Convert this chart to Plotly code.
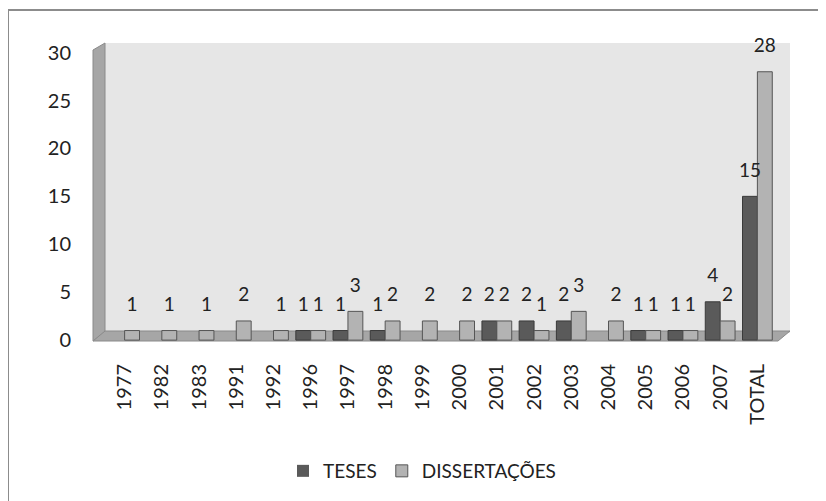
import plotly.graph_objects as go

categories = ["1977", "1982", "1983", "1991", "1992", "1996", "1997", "1998", "1999",
              "2000", "2001", "2002", "2003", "2004", "2005", "2006", "2007", "TOTAL"]
teses = [0, 0, 0, 0, 0, 1, 1, 1, 0, 0, 2, 2, 2, 0, 1, 1, 4, 15]
dissertacoes = [1, 1, 1, 2, 1, 1, 3, 2, 2, 2, 2, 1, 3, 2, 1, 1, 2, 28]
y_ticks = [0, 5, 10, 15, 20, 25, 30]

FW, FH = 826, 501
OFF = 8  # page body margin in the browser
# plot area in screen pixels: x 106..776, y 43..343
L, T = 106 - OFF, 43 - OFF
R = FW - (776 - OFF)
B = FH - (343 - OFF)
PW, PH = FW - L - R, FH - T - B


def px(x):
    return (x - OFF - L) / PW


def py(y):
    return (FH - B - (y - OFF)) / PH


FONT = "Lato, 'Open Sans', sans-serif"
GAP = 0.2

fig = go.Figure()
series = [
    ("TESES", teses, "#5a5a5a", "#3a3a3a", "a"),
    ("DISSERTAÇÕES", dissertacoes, "#b3b3b3", "#555", "b"),
]
for name, vals, fill, edge, grp in series:
    fig.add_trace(go.Bar(
        name=name, x=categories, y=vals, offsetgroup=grp,
        marker=dict(color=fill, line=dict(color=edge, width=[1 if v else 0 for v in vals])),
    ))
for name, vals, fill, edge, grp in series:
    fig.add_trace(go.Scatter(
        x=categories, y=vals, offsetgroup=grp, mode="markers+text",
        text=[str(v) if v else "" for v in vals], textposition="top center",
        marker=dict(size=22, opacity=0), textfont=dict(size=19, color="#222"),
        showlegend=False, hoverinfo="skip", cliponaxis=False,
    ))

shapes = [
    # outer border
    dict(type="rect", xref="paper", yref="paper", x0=px(8), x1=px(822), y0=py(515), y1=py(10),
         line=dict(color="#8c8c8c", width=2), fillcolor="rgba(0,0,0,0)", layer="below"),
    # back wall
    dict(type="rect", xref="paper", yref="paper", x0=px(105), x1=px(790), y0=py(333), y1=py(43),
         line=dict(width=0), fillcolor="#e6e6e6", layer="below"),
    # left wall
    dict(type="path", xref="paper", yref="paper",
         path=f"M {px(93)},{py(341)} L {px(93)},{py(50)} L {px(105)},{py(43)} L {px(105)},{py(333)} Z",
         line=dict(color="#8a8a8a", width=1), fillcolor="#a6a6a6", layer="below"),
    # floor
    dict(type="path", xref="paper", yref="paper",
         path=f"M {px(93)},{py(341)} L {px(105)},{py(331)} L {px(790)},{py(331)} L {px(778)},{py(341)} Z",
         line=dict(color="#8a8a8a", width=1), fillcolor="#a6a6a6", layer="below"),
]

fig.update_layout(
    width=FW, height=FH,
    margin=dict(l=L, r=R, t=T, b=B, autoexpand=False),
    paper_bgcolor="white", plot_bgcolor="rgba(0,0,0,0)",
    barmode="group", bargap=GAP, bargroupgap=0,
    scattermode="group", scattergap=GAP,
    font=dict(family=FONT, size=16, color="#222"),
    shapes=shapes,
    showlegend=True,
    legend=dict(orientation="h", x=px(422), xanchor="center", y=py(471), yanchor="middle",
                font=dict(size=19, color="#222"), itemwidth=30),
    xaxis=dict(type="category", tickangle=-90, showgrid=False, showline=False,
               ticks="outside", ticklen=12, tickcolor="rgba(0,0,0,0)",
               tickfont=dict(size=20, color="#222")),
    yaxis=dict(range=[-0.3, 31.0], tickvals=y_ticks, showgrid=False, showline=False,
               zeroline=False, ticks="outside", ticklen=30, tickcolor="rgba(0,0,0,0)",
               tickfont=dict(size=20, color="#222")),
)

fig.write_html("out.html")
